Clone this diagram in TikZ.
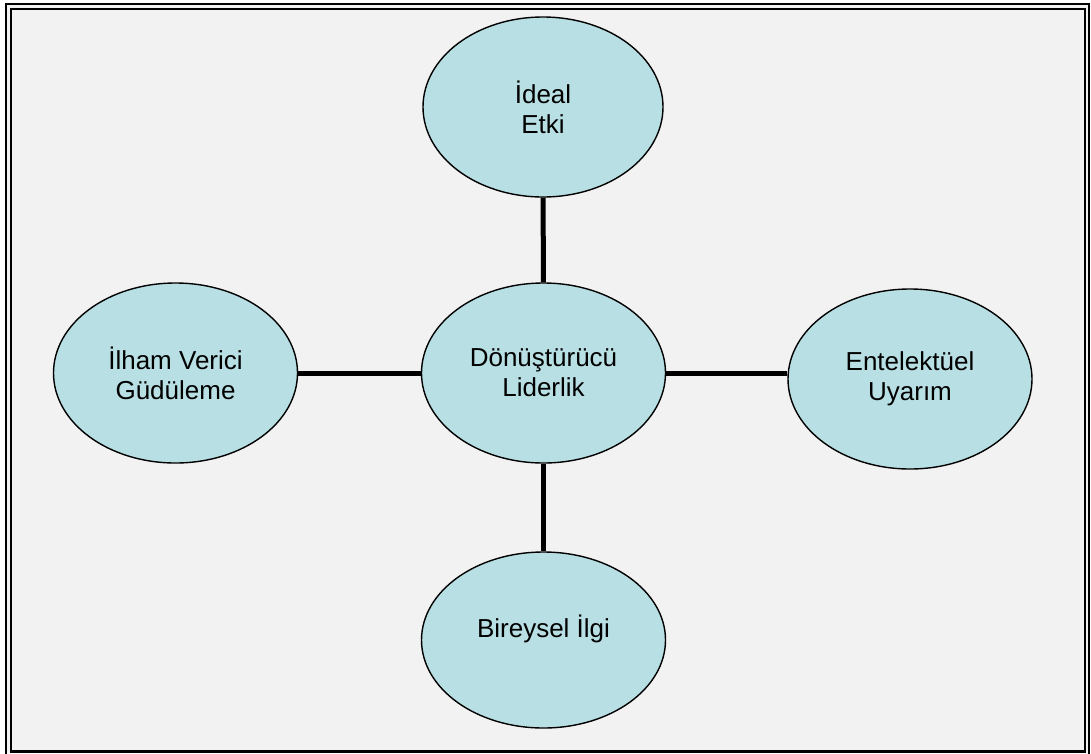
\documentclass[tikz,border=0pt]{standalone}
\usepackage{fontspec}
\setmainfont{Liberation Sans}
\usetikzlibrary{shapes.geometric}
\definecolor{bubblefill}{RGB}{184,224,228}
\definecolor{pagegray}{RGB}{242,242,242}
\begin{document}
\begin{tikzpicture}[x=1pt,y=-1pt,
  bubble/.style={ellipse,draw=black,line width=1.4pt,fill=bubblefill,
    minimum width=244pt,minimum height=180pt,inner sep=0pt,align=center,
    font=\fontsize{26}{30}\selectfont},
  link/.style={line width=5pt,draw=black}]
  % page and double frame
  \fill[white] (0,0) rectangle (1091,753);
  \useasboundingbox (0,0) rectangle (1091,753);
  \fill[pagegray] (6,4) rectangle (1089,753);
  \draw[line width=2pt] (6,4) rectangle (1089,757);
  \draw[line width=2.5pt] (11,9) rectangle (1085,751.5);
  % the five ellipses
  \node[bubble,minimum width=240pt] (ideal) at (543,107) {İdeal\\Etki};
  \node[bubble] (core) at (543.5,373) {Dönüştürücü\\Liderlik};
  \node[bubble] (ilham) at (175.5,373) {İlham Verici\\Güdüleme};
  \node[bubble] (ent) at (910,379) {Entelektüel\\Uyarım};
  \node[bubble,minimum height=176pt,text height=20pt,text depth=25pt] (birey) at (543.5,640) {Bireysel İlgi};
  % spokes
  \draw[link] (core) -- (ideal);
  \draw[link] (core) -- (birey);
  \draw[link] (core.west) -- (core.west -| ilham.east);
  \draw[link] (core.east) -- (core.east -| ent.west);
\end{tikzpicture}
\end{document}
